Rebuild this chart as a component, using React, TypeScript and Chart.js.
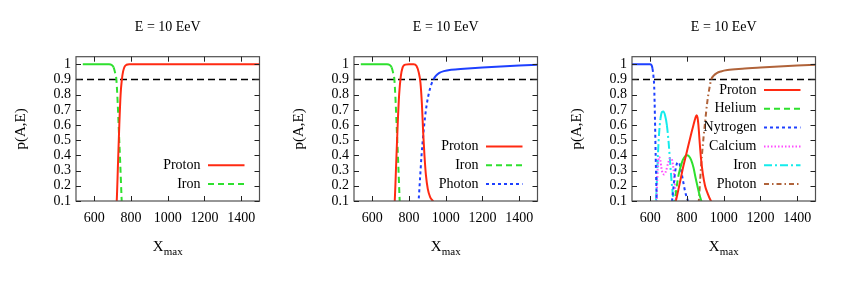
import React, { useEffect, useRef } from 'react';
import { Chart, registerables } from 'chart.js';

Chart.register(...registerables);

type Pt = [number, number];

// ---------- text ----------
const TITLE_TEXT = 'E = 10 EeV';
const Y_TITLE = 'p(A,E)';
const X_TITLE_MAIN = 'X';
const X_TITLE_SUB = 'max';

// ---------- axes ----------
const X_MIN = 500;
const X_MAX = 1500;
const Y_MIN = 0.1;
const Y_MAX = 1.05;
const X_TICKS = [600, 800, 1000, 1200, 1400];
const X_TICK_LABELS = ['600', '800', '1000', '1200', '1400'];
const Y_TICKS = [0.1, 0.2, 0.3, 0.4, 0.5, 0.6, 0.7, 0.8, 0.9, 1.0];
const Y_TICK_LABELS = ['0.1', '0.2', '0.3', '0.4', '0.5', '0.6', '0.7', '0.8', '0.9', '1'];
const THRESHOLD: Pt[] = [[500, 0.9], [1500, 0.9]];

// ---------- panel 1 ----------
const P1_PROTON: Pt[] = [[715, 0], [722, 0.1], [729, 0.35], [736, 0.6], [743, 0.8], [750, 0.9], [757, 0.955], [765, 0.985], [775, 0.997], [790, 1], [1500, 1]];
const P1_IRON: Pt[] = [[537, 1], [680, 1], [695, 0.995], [705, 0.98], [713, 0.945], [720, 0.9], [727, 0.75], [734, 0.55], [741, 0.35], [748, 0.13], [753, 0.0]];

// ---------- panel 2 ----------
const P2_PROTON: Pt[] = [[715, 0], [722, 0.1], [730, 0.35], [738, 0.6], [746, 0.8], [755, 0.92], [765, 0.98], [780, 0.998], [800, 1], [825, 1], [840, 0.99], [852, 0.95], [862, 0.88], [870, 0.74], [877, 0.55], [884, 0.4], [892, 0.27], [902, 0.18], [915, 0.125], [930, 0.1], [945, 0.07]];
const P2_IRON: Pt[] = [[537, 1], [680, 1], [695, 0.995], [705, 0.98], [713, 0.945], [720, 0.9], [727, 0.75], [734, 0.55], [741, 0.35], [748, 0.13], [753, 0.0]];
const P2_PHOTON: Pt[] = [[845, 0], [852, 0.1], [860, 0.25], [868, 0.4], [877, 0.53], [887, 0.65], [897, 0.74], [910, 0.82], [922, 0.87], [933, 0.9], [947, 0.925], [965, 0.943], [990, 0.955], [1030, 0.964], [1100, 0.971], [1200, 0.979], [1300, 0.986], [1400, 0.992], [1500, 0.997]];

// ---------- panel 3 ----------
const P3_PROTON: Pt[] = [[730, 0.05], [739, 0.1], [752, 0.17], [766, 0.25], [780, 0.33], [794, 0.4], [808, 0.47], [822, 0.54], [835, 0.6], [845, 0.645], [852, 0.665], [857, 0.65], [862, 0.6], [868, 0.5], [876, 0.38], [886, 0.28], [898, 0.2], [912, 0.15], [930, 0.1], [945, 0.07]];
const P3_HELIUM: Pt[] = [[725, 0], [734, 0.1], [742, 0.18], [752, 0.26], [764, 0.32], [777, 0.37], [790, 0.395], [800, 0.402], [810, 0.395], [822, 0.37], [835, 0.32], [847, 0.25], [858, 0.19], [868, 0.14], [878, 0.1], [888, 0.06], [900, 0]];
const P3_NITROGEN: Pt[] = [[500, 1], [598, 1], [606, 0.995], [612, 0.97], [617, 0.92], [621, 0.85], [625, 0.65], [629, 0.4], [633, 0.18], [636, 0.05], [645, 0], [705, 0], [712, 0.05], [718, 0.1], [726, 0.19], [735, 0.29], [743, 0.34], [750, 0.355], [757, 0.35], [766, 0.31], [777, 0.24], [790, 0.16], [805, 0.1], [815, 0.06], [830, 0]];
const P3_CALCIUM: Pt[] = [[628, 0], [634, 0.1], [638, 0.25], [643, 0.36], [648, 0.39], [654, 0.37], [660, 0.32], [668, 0.28], [676, 0.275], [686, 0.3], [697, 0.35], [707, 0.38], [715, 0.38], [723, 0.34], [730, 0.26], [736, 0.17], [741, 0.1], [746, 0.05], [755, 0]];
const P3_IRON: Pt[] = [[625, 0], [631, 0.1], [636, 0.25], [642, 0.42], [648, 0.55], [655, 0.64], [663, 0.685], [671, 0.69], [680, 0.665], [690, 0.6], [700, 0.48], [708, 0.35], [715, 0.24], [722, 0.15], [729, 0.1], [736, 0.06], [745, 0.03]];
const P3_PHOTON: Pt[] = [[855, 0], [864, 0.1], [872, 0.25], [881, 0.4], [890, 0.52], [900, 0.64], [910, 0.75], [920, 0.83], [932, 0.9], [945, 0.925], [962, 0.942], [985, 0.953], [1020, 0.962], [1100, 0.971], [1200, 0.979], [1300, 0.986], [1400, 0.992], [1500, 0.997]];

// ---------- styles ----------
const FONT = "'Liberation Serif', 'Times New Roman', serif";
const RED = '#ff2a12';
const GREEN = '#2ee02e';
const BLUE = '#1e40ff';
const MAGENTA = '#ff4cff';
const CYAN = '#14ecec';
const BROWN = '#b0633a';

const DASH_GREEN = [6, 4];
const DASH_BLUE = [3, 3];
const DASH_MAGENTA = [1.5, 2];
const DASH_CYAN = [8, 3, 2, 3];
const DASH_BROWN = [5, 3, 1.5, 3];

interface Series {
  label: string;
  data: Pt[];
  color: string;
  dash: number[];
  solidMinY?: number;
  solidMaxSlope?: number;
}

const PANEL1: Series[] = [
  { label: 'Proton', data: P1_PROTON, color: RED, dash: [] },
  { label: 'Iron', data: P1_IRON, color: GREEN, dash: DASH_GREEN, solidMinY: 0.97 },
];
const PANEL2: Series[] = [
  { label: 'Proton', data: P2_PROTON, color: RED, dash: [] },
  { label: 'Iron', data: P2_IRON, color: GREEN, dash: DASH_GREEN, solidMinY: 0.97 },
  { label: 'Photon', data: P2_PHOTON, color: BLUE, dash: DASH_BLUE, solidMinY: 0.9 },
];
const PANEL3: Series[] = [
  { label: 'Proton', data: P3_PROTON, color: RED, dash: [] },
  { label: 'Helium', data: P3_HELIUM, color: GREEN, dash: DASH_GREEN, solidMaxSlope: 6 },
  { label: 'Nytrogen', data: P3_NITROGEN, color: BLUE, dash: DASH_BLUE, solidMinY: 0.97 },
  { label: 'Calcium', data: P3_CALCIUM, color: MAGENTA, dash: DASH_MAGENTA },
  { label: 'Iron', data: P3_IRON, color: CYAN, dash: DASH_CYAN, solidMinY: 0.6 },
  { label: 'Photon', data: P3_PHOTON, color: BROWN, dash: DASH_BROWN, solidMinY: 0.9 },
];

const CANVAS_W = 278;
const CANVAS_H = 281;

function Panel({ series, left }: { series: Series[]; left: number }) {
  const ref = useRef<HTMLCanvasElement | null>(null);

  useEffect(() => {
    const canvas = ref.current;
    if (!canvas) return;

    const framePlugin = {
      id: 'gframe',
      afterDatasetsDraw(chart: any) {
        const { ctx, chartArea: a, scales } = chart;
        ctx.save();
        ctx.strokeStyle = '#505050';
        ctx.lineWidth = 1.2;
        ctx.setLineDash([]);
        ctx.strokeRect(a.left, a.top, a.right - a.left, a.bottom - a.top);
        ctx.strokeStyle = '#222';
        ctx.lineWidth = 1;
        const t = 5;
        ctx.beginPath();
        for (const v of X_TICKS) {
          const px = Math.round(scales.x.getPixelForValue(v)) + 0.5;
          ctx.moveTo(px, a.bottom); ctx.lineTo(px, a.bottom - t);
          ctx.moveTo(px, a.top); ctx.lineTo(px, a.top + t);
        }
        for (const v of Y_TICKS) {
          const py = Math.round(scales.y.getPixelForValue(v)) + 0.5;
          ctx.moveTo(a.left, py); ctx.lineTo(a.left + t, py);
          ctx.moveTo(a.right, py); ctx.lineTo(a.right - t, py);
        }
        ctx.stroke();
        ctx.restore();
      },
    };

    const textPlugin = {
      id: 'gtext',
      afterDraw(chart: any) {
        const { ctx, chartArea: a } = chart;
        const cx = (a.left + a.right) / 2;
        const cy = (a.top + a.bottom) / 2;
        ctx.save();
        ctx.fillStyle = '#000';
        ctx.textAlign = 'center';
        ctx.textBaseline = 'middle';
        ctx.font = `14px ${FONT}`;
        ctx.fillText(TITLE_TEXT, cx, a.top - 29.5);

        ctx.save();
        ctx.translate(a.left - 55, cy);
        ctx.rotate(-Math.PI / 2);
        ctx.font = `15px ${FONT}`;
        ctx.fillText(Y_TITLE, 0, 0);
        ctx.restore();

        ctx.font = `15px ${FONT}`;
        const wX = ctx.measureText(X_TITLE_MAIN).width;
        ctx.font = `11px ${FONT}`;
        const wS = ctx.measureText(X_TITLE_SUB).width;
        const x0 = cx - (wX + wS) / 2;
        ctx.textAlign = 'left';
        ctx.textBaseline = 'alphabetic';
        ctx.font = `15px ${FONT}`;
        ctx.fillText(X_TITLE_MAIN, x0, a.bottom + 50);
        ctx.font = `11px ${FONT}`;
        ctx.fillText(X_TITLE_SUB, x0 + wX, a.bottom + 54);

        // legend (gnuplot style: text right-aligned, sample line on the right)
        const n = series.length;
        const rowGap = 18.8;
        const lastRowY = a.bottom - 17;
        ctx.font = `14px ${FONT}`;
        ctx.textAlign = 'right';
        ctx.textBaseline = 'middle';
        series.forEach((s, i) => {
          const y = lastRowY - (n - 1 - i) * rowGap;
          ctx.fillStyle = '#000';
          ctx.fillText(s.label, a.right - 59, y);
          ctx.beginPath();
          ctx.strokeStyle = s.color;
          ctx.lineWidth = 2;
          ctx.setLineDash(s.dash);
          ctx.moveTo(a.right - 51.5, y);
          ctx.lineTo(a.right - 15, y);
          ctx.stroke();
        });
        ctx.restore();
      },
    };

    const datasets: any[] = series.map((s) => ({
      label: s.label,
      data: s.data.map(([x, y]) => ({ x, y })),
      borderColor: s.color,
      backgroundColor: s.color,
      borderWidth: 2,
      borderDash: s.dash,
      pointRadius: 0,
      fill: false,
      cubicInterpolationMode: 'monotone',
      clip: 0,
      segment: {
        borderDash: (ctx: any) => {
          const y0 = s.data[ctx.p0DataIndex][1];
          const y1 = s.data[ctx.p1DataIndex][1];
          if (s.solidMinY !== undefined && y0 >= s.solidMinY && y1 >= s.solidMinY) return [];
          if (s.solidMaxSlope !== undefined) {
            const dx = Math.abs(ctx.p1.x - ctx.p0.x) || 0.001;
            const dy = Math.abs(ctx.p1.y - ctx.p0.y);
            if (dy / dx <= s.solidMaxSlope) return [];
          }
          return s.dash;
        },
      },
    }));
    datasets.push({
      label: '',
      data: THRESHOLD.map(([x, y]) => ({ x, y })),
      borderColor: '#000',
      borderWidth: 1.5,
      borderDash: [7, 4],
      pointRadius: 0,
      fill: false,
      clip: 0,
    });

    const tickFont = { family: FONT, size: 14 };

    const chart = new Chart(canvas, {
      type: 'line',
      data: { datasets },
      options: {
        responsive: false,
        maintainAspectRatio: false,
        animation: false,
        events: [],
        layout: { padding: { top: 56.7, right: 18.5, bottom: 50, left: 0 } },
        plugins: {
          legend: { display: false },
          tooltip: { enabled: false },
          title: { display: false },
        },
        scales: {
          x: {
            type: 'linear',
            min: X_MIN,
            max: X_MAX,
            afterBuildTicks: (s: any) => {
              s.ticks = X_TICKS.map((v) => ({ value: v }));
            },
            afterFit: (s: any) => {
              s.height = 30;
            },
            grid: { display: false, drawTicks: false },
            border: { display: false },
            ticks: {
              autoSkip: false,
              maxRotation: 0,
              padding: 8.5,
              color: '#000',
              font: tickFont,
              callback: (_v: any, i: number) => X_TICK_LABELS[i],
            },
          },
          y: {
            type: 'linear',
            min: Y_MIN,
            max: Y_MAX,
            afterBuildTicks: (s: any) => {
              s.ticks = Y_TICKS.map((v) => ({ value: v }));
            },
            afterFit: (s: any) => {
              s.width = 76;
            },
            grid: { display: false, drawTicks: false },
            border: { display: false },
            ticks: {
              autoSkip: false,
              padding: 5,
              color: '#000',
              font: tickFont,
              callback: (_v: any, i: number) => Y_TICK_LABELS[i],
            },
          },
        },
      } as any,
      plugins: [framePlugin, textPlugin],
    });

    return () => chart.destroy();
  }, [series]);

  return (
    <canvas
      ref={ref}
      width={CANVAS_W}
      height={CANVAS_H}
      style={{ position: 'absolute', left, top: 0, width: CANVAS_W, height: CANVAS_H }}
    />
  );
}

export default function App() {
  return (
    <div style={{ position: 'absolute', left: 0, top: 0, width: 843, height: 281, background: '#fff' }}>
      <Panel series={PANEL1} left={0} />
      <Panel series={PANEL2} left={278} />
      <Panel series={PANEL3} left={556} />
    </div>
  );
}
